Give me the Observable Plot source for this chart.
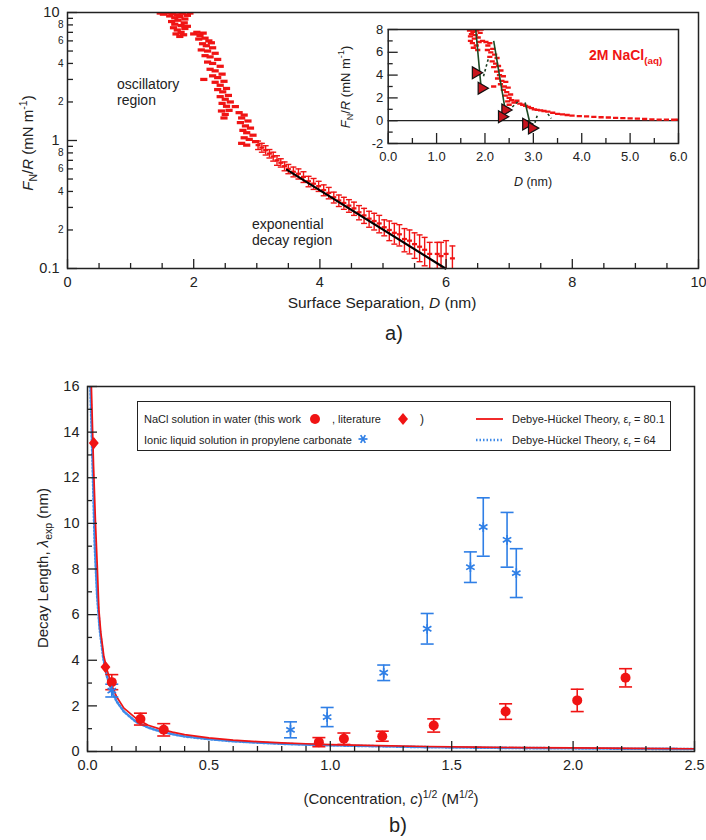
<!DOCTYPE html>
<html>
<head>
<meta charset="utf-8">
<script src="https://cdn.jsdelivr.net/npm/d3@7"></script>
<script src="https://cdn.jsdelivr.net/npm/@observablehq/plot@0.6"></script>
<style>
  body { margin: 0; background: #fff; }
  #page { position: relative; width: 706px; height: 840px; overflow: hidden; font-family: 'Liberation Sans', Arial, sans-serif; color: #222; }
  .abs { position: absolute; white-space: nowrap; }
  .c { transform: translate(-50%, -50%); }
  .rot { transform: translate(-50%, -50%) rotate(-90deg); }
  sub, sup { font-size: 70%; line-height: 0; }
  .leg { position: absolute; font-size: 11px; white-space: nowrap; transform: translateY(-50%); }
</style>
</head>
<body>
<div id="page"></div>
<script>
// ---------------- Panel a) main: oscillatory region points ----------------
const oscD = [1.47,1.52,1.58,1.62,1.66,1.7,1.74,1.78,1.82,1.86,1.9,1.94,1.65,1.7,1.75,1.8,1.85,1.68,1.74,1.8,1.86,1.72,1.78,1.84,1.9,
  2.0,2.05,2.1,2.15,2.08,2.18,2.24,2.14,2.2,2.28,2.12,2.22,2.3,2.18,2.26,2.34,2.22,2.3,2.38,2.26,2.34,2.42,2.3,2.38,2.45,
  2.34,2.42,2.48,2.38,2.46,2.52,2.42,2.5,2.55,2.45,2.52,2.58,2.44,2.5,2.56,2.48,2.16,2.66,
  2.72,2.76,2.8,2.74,2.82,2.86,2.78,2.84,2.9,2.8,2.88,2.94,2.76,2.84,2.98];
const oscF = [9.9,9.7,9.95,9.4,9.8,9.1,9.6,9.3,9.85,8.9,9.5,9.9,8.5,8.1,8.7,7.9,8.3,7.6,7.3,7.0,7.5,6.8,6.5,6.7,7.8,
  6.8,7.0,6.6,6.9,6.2,6.3,6.0,5.7,5.5,5.8,5.1,5.0,5.3,4.6,4.5,4.8,4.1,4.0,4.3,3.6,3.5,3.8,3.2,3.1,3.3,
  2.85,2.7,2.9,2.5,2.4,2.55,2.2,2.1,2.25,1.95,1.85,2.0,1.7,1.6,1.72,1.5,3.0,1.84,
  1.65,1.5,1.58,1.38,1.3,1.42,1.2,1.15,1.25,1.05,1.02,1.1,0.95,0.92,0.98];

// exponential decay region points with error bars
const expD = [3.02,3.08,3.14,3.2,3.26,3.32,3.38,3.44,3.5,3.58,3.66,3.74,3.82,3.9,3.98,4.06,4.14,4.22,4.3,4.38,4.46,4.54,4.62,4.7,4.78,4.86,4.94,5.02,5.1,5.18,5.26,5.34,5.42,5.5,5.58,5.66,5.74,5.86,5.92,6.0,6.1];
const expF = [0.92,0.88,0.84,0.79,0.75,0.7,0.67,0.63,0.6,0.57,0.55,0.52,0.48,0.46,0.44,0.41,0.39,0.36,0.34,0.325,0.31,0.295,0.275,0.26,0.245,0.235,0.225,0.21,0.2,0.19,0.185,0.17,0.165,0.155,0.148,0.14,0.13,0.13,0.125,0.13,0.12];
const expErr = [0.07,0.07,0.07,0.06,0.06,0.06,0.05,0.05,0.05,0.05,0.05,0.05,0.045,0.045,0.04,0.04,0.04,0.035,0.035,0.035,0.035,0.035,0.035,0.035,0.035,0.035,0.035,0.03,0.035,0.035,0.035,0.035,0.035,0.035,0.035,0.035,0.03,0.03,0.035,0.035,0.03];

// exponential fit line
const fitD = [3.48, 5.99];
const fitF = [0.59, 0.1];

// axis ticks, panel a)
const aXLabels = [0, 2, 4, 6, 8, 10];
const aXMinor = [0.5,1,1.5,2.5,3,3.5,4.5,5,5.5,6.5,7,7.5,8.5,9,9.5];
const aYMajor = [0.1, 1, 10];
const aYMinorLabels = [0.2, 0.4, 0.6, 0.8, 2, 4, 6, 8];
const aYMinor = [0.2,0.3,0.4,0.5,0.6,0.7,0.8,0.9,2,3,4,5,6,7,8,9];

// ---------------- Panel a) inset ----------------
const insD = [1.68,1.72,1.75,1.78,1.7,1.74,1.8,1.83,1.86,1.88,1.9,1.76,1.82,1.92,1.7,1.85,1.95,1.79,
  2.02,2.06,2.1,2.05,2.12,2.16,2.1,2.2,2.15,2.22,2.25,2.18,2.28,2.24,2.3,2.33,2.26,2.35,2.38,2.32,2.4,2.43,2.38,2.45,2.48,2.42,2.5,2.53,2.47,2.55,2.5,2.45,2.4,2.18,
  2.6,2.66,2.72,2.78,2.84,2.9,2.96,3.02,3.08,3.15,3.22,3.3,3.4,3.5,3.6,3.7,3.8,3.95,4.1,4.25,4.4,4.55,4.7,4.85,5.0,5.15,5.3,5.45,5.6,5.75,5.9,6.0];
const insF = [7.9,7.6,7.8,7.2,7.0,6.8,7.5,7.9,7.3,6.9,7.7,6.4,6.6,8.0,7.4,6.2,7.0,7.95,
  6.9,6.6,6.8,6.2,6.0,6.3,5.6,5.8,5.2,5.0,5.5,4.7,4.8,4.3,4.0,4.4,3.7,3.5,3.9,3.2,3.0,3.4,2.7,2.5,2.9,2.2,2.0,2.3,1.7,1.8,1.4,1.1,0.8,3.0,
  1.6,1.75,1.5,1.4,1.3,1.2,1.1,1.0,0.95,0.9,0.85,0.8,0.7,0.6,0.55,0.5,0.45,0.4,0.38,0.33,0.3,0.28,0.25,0.22,0.2,0.18,0.15,0.12,0.1,0.1,0.08,0.1];
// jump-in lines (solid) and jump-out lines (dashed)
const jumpD1 = [1.81, 2.18, 2.83];
const jumpF1 = [8.0, 7.0, 1.6];
const jumpD2 = [1.92, 2.42, 2.95];
const jumpF2 = [2.9, 0.9, -0.6];
const dashD1 = [1.97, 2.49, 3.0, 3.3];
const dashF1 = [3.9, 0.9, -0.6, 0.6];
const dashD2 = [2.08, 2.7, 3.08, 3.37];
const dashF2 = [5.6, 1.75, 0.45, 0.2];
const triD = [1.81, 1.93, 2.42, 2.35, 2.85, 2.97];
const triF = [4.2, 2.85, 0.94, 0.35, -0.3, -0.65];
const insXLabels = [0, 1, 2, 3, 4, 5, 6];
const insXMinor = [0.5, 1.5, 2.5, 3.5, 4.5, 5.5];
const insYLabels = [-2, 0, 2, 4, 6, 8];
const insYMinor = [-1, 1, 3, 5, 7];

// ---------------- Panel b) ----------------
const naclX = [0.10, 0.218, 0.314, 0.953, 1.056, 1.214, 1.426, 1.722, 2.017, 2.216];
const naclY = [3.04, 1.42, 0.95, 0.41, 0.56, 0.67, 1.14, 1.75, 2.24, 3.23];
const naclErr = [0.33, 0.26, 0.27, 0.2, 0.25, 0.22, 0.29, 0.34, 0.49, 0.4];
const litX = [0.026, 0.074];
const litY = [13.52, 3.70];
const ilX = [0.10, 0.836, 0.987, 1.22, 1.399, 1.577, 1.63, 1.728, 1.766];
const ilY = [2.67, 0.95, 1.51, 3.45, 5.38, 8.08, 9.84, 9.28, 7.82];
const ilErr = [0.28, 0.35, 0.42, 0.34, 0.67, 0.67, 1.28, 1.2, 1.07];
const dhWaterX = [0.016,0.025,0.033,0.04,0.047,0.055,0.067,0.08,0.1,0.12,0.15,0.2,0.25,0.3,0.35,0.4,0.5,0.6,0.7,0.8,0.9,1.0,1.2,1.4,1.6,1.8,2.0,2.25,2.5];
const dhWaterY = [16,12.5,10,8.2,6.2,5.2,4.2,3.6,2.9,2.4,1.9,1.45,1.15,0.98,0.85,0.74,0.6,0.5,0.43,0.38,0.34,0.3,0.26,0.22,0.19,0.17,0.16,0.14,0.12];
const dh64X = [0.012,0.02,0.03,0.04,0.05,0.065,0.08,0.1,0.12,0.15,0.2,0.25,0.3,0.35,0.4,0.5,0.6,0.7,0.8,0.9,1.0,1.2,1.4,1.6,1.8,2.0,2.25,2.5];
const dh64Y = [16,13,9,6.8,5.4,4.1,3.3,2.65,2.2,1.75,1.3,1.05,0.88,0.76,0.66,0.54,0.45,0.39,0.34,0.3,0.27,0.23,0.19,0.17,0.15,0.14,0.12,0.11];
const bXLabels = [0, 0.5, 1.0, 1.5, 2.0, 2.5];
const bXMinor = [0.1,0.2,0.3,0.4,0.6,0.7,0.8,0.9,1.1,1.2,1.3,1.4,1.6,1.7,1.8,1.9,2.1,2.2,2.3,2.4];
const bYLabels = [0, 2, 4, 6, 8, 10, 12, 14, 16];
const bYMinor = [1, 3, 5, 7, 9, 11, 13, 15];

// ---------------- helpers ----------------
const FONT = "'Liberation Sans', Arial, sans-serif";
const RED = "#f01414";
const BLUE = "#2f7fe6";
const INK = "#222";
const zip = (xs, ys) => xs.map((x, i) => ({x, y: ys[i]}));
const capSym = {draw(ctx, size) { const r = Math.sqrt(size / Math.PI); ctx.moveTo(-r, 0); ctx.lineTo(r, 0); }};
const blobSym = {draw(ctx, size) { const r = Math.sqrt(size / Math.PI); ctx.rect(-r, -r * 0.45, 2 * r, 0.9 * r); }};
const diamondSym = {draw(ctx, size) { const r = Math.sqrt(size / Math.PI); ctx.moveTo(0, -r * 1.1); ctx.lineTo(r * 0.9, 0); ctx.lineTo(0, r * 1.1); ctx.lineTo(-r * 0.9, 0); ctx.closePath(); }};

// inward tick marks: full-frame rules shrunk with insets so only `size` px remain at the axis
function ticksX(values, size, innerH) {
  return Plot.ruleX(values, {x: d => d, insetTop: innerH - size, stroke: INK, strokeWidth: 1.3});
}
function ticksY(values, size, innerW) {
  return Plot.ruleY(values, {y: d => d, insetRight: innerW - size, stroke: INK, strokeWidth: 1.3});
}
function labelsX(values, fmt, fontSize, pad) {
  return Plot.text(values, {x: d => d, text: fmt, frameAnchor: "bottom", lineAnchor: "top", dy: pad, fontSize, fill: INK});
}
function labelsY(values, fmt, fontSize, pad) {
  return Plot.text(values, {y: d => d, text: fmt, frameAnchor: "left", textAnchor: "end", dx: -pad, fontSize, fill: INK});
}
function place(el, left, top) {
  const d = document.createElement("div");
  d.style.position = "absolute"; d.style.left = left + "px"; d.style.top = top + "px";
  d.append(el);
  document.getElementById("page").append(d);
}

// ---------------- Panel a) main plot ----------------
const osc = zip(oscD, oscF);
const exp = expD.map((d, i) => ({x: d, y: expF[i], lo: expF[i] - expErr[i], hi: expF[i] + expErr[i]}));
const fit = zip(fitD, fitF);
const A = {w: 706, h: 320, ml: 67, mr: 8, mt: 12, mb: 52};
const aIW = A.w - A.ml - A.mr, aIH = A.h - A.mt - A.mb;

const plotA = Plot.plot({
  width: A.w, height: A.h,
  marginLeft: A.ml, marginRight: A.mr, marginTop: A.mt, marginBottom: A.mb,
  style: {fontFamily: FONT, fontSize: "14px", color: INK, background: "transparent", overflow: "visible"},
  x: {domain: [0, 10], axis: null},
  y: {type: "log", domain: [0.1, 10], axis: null},
  marks: [
    Plot.ruleX(exp, {x: "x", y1: "lo", y2: "hi", stroke: RED, strokeWidth: 1.4, clip: true}),
    Plot.dot(exp, {x: "x", y: "lo", symbol: capSym, r: 3, stroke: RED, strokeWidth: 1.4, clip: true}),
    Plot.dot(exp, {x: "x", y: "hi", symbol: capSym, r: 3, stroke: RED, strokeWidth: 1.4, clip: true}),
    Plot.dot(exp, {x: "x", y: "y", symbol: blobSym, r: 2.5, fill: RED, stroke: "none"}),
    Plot.dot(osc, {x: "x", y: "y", symbol: blobSym, r: 3.6, fill: RED, stroke: "none", clip: true}),
    Plot.line(fit, {x: "x", y: "y", stroke: "#000", strokeWidth: 2.2}),
    Plot.frame({stroke: INK, strokeWidth: 1.5}),
    ticksX(aXLabels, 9, aIH),
    ticksX(aXMinor, 5, aIH),
    labelsX(aXLabels, d => String(d), 14.5, 8),
    ticksY(aYMajor, 10, aIW),
    ticksY(aYMinor, 6, aIW),
    labelsY(aYMajor, d => String(d), 14.5, 8),
    labelsY(aYMinorLabels, d => d < 1 ? String(Math.round(d * 10)) : String(d), 10, 4)
  ]
});
place(plotA, 0, 0);

// ---------------- Panel a) inset ----------------
const ins = zip(insD, insF);
const jumps = jumpD1.map((d, i) => ({x1: d, y1: jumpF1[i], x2: jumpD2[i], y2: jumpF2[i]}));
const dashes = dashD1.map((d, i) => ({x1: d, y1: dashF1[i], x2: dashD2[i], y2: dashF2[i]}));
const tris = zip(triD, triF);
const I = {w: 376, h: 200, ml: 57.7, mr: 28, mt: 29, mb: 57};
const iIW = I.w - I.ml - I.mr, iIH = I.h - I.mt - I.mb;

const plotInset = Plot.plot({
  width: I.w, height: I.h,
  marginLeft: I.ml, marginRight: I.mr, marginTop: I.mt, marginBottom: I.mb,
  style: {fontFamily: FONT, fontSize: "13px", color: INK, background: "transparent", overflow: "visible"},
  x: {domain: [0, 6], axis: null},
  y: {domain: [-2, 8], axis: null},
  marks: [
    Plot.ruleY([0], {stroke: INK, strokeWidth: 1.3}),
    Plot.dot(ins, {x: "x", y: "y", symbol: blobSym, r: 2.6, fill: RED, stroke: "none", clip: true}),
    Plot.link(dashes, {x1: "x1", y1: "y1", x2: "x2", y2: "y2", stroke: "#1e3d22", strokeWidth: 1.6, strokeDasharray: "2.5,2.5"}),
    Plot.link(jumps, {x1: "x1", y1: "y1", x2: "x2", y2: "y2", stroke: "#1e4a24", strokeWidth: 1.6}),
    Plot.dot(tris, {x: "x", y: "y", symbol: "triangle", rotate: 90, r: 4.4, fill: "#c8141e", stroke: "#111", strokeWidth: 1.2}),
    Plot.frame({stroke: INK, strokeWidth: 1.5}),
    ticksX(insXLabels, 10, iIH),
    ticksX(insXMinor, 5, iIH),
    labelsX(insXLabels, d3.format(".1f"), 13, 8),
    ticksY(insYLabels, 10, iIW),
    ticksY(insYMinor, 5, iIW),
    labelsY(insYLabels, d => String(d), 13, 5)
  ]
});
place(plotInset, 330, 0);

// ---------------- Panel b) ----------------
const nacl = naclX.map((x, i) => ({x, y: naclY[i], lo: naclY[i] - naclErr[i], hi: naclY[i] + naclErr[i]}));
const il = ilX.map((x, i) => ({x, y: ilY[i], lo: ilY[i] - ilErr[i], hi: ilY[i] + ilErr[i]}));
const lit = zip(litX, litY);
const dhW = zip(dhWaterX, dhWaterY);
const dh64 = zip(dh64X, dh64Y);
const B = {w: 706, h: 480, ml: 87, mr: 12, mt: 26, mb: 89};
const bIW = B.w - B.ml - B.mr, bIH = B.h - B.mt - B.mb;

const plotB = Plot.plot({
  width: B.w, height: B.h,
  marginLeft: B.ml, marginRight: B.mr, marginTop: B.mt, marginBottom: B.mb,
  style: {fontFamily: FONT, fontSize: "14px", color: INK, background: "transparent", overflow: "visible"},
  x: {domain: [0, 2.5], axis: null},
  y: {domain: [0, 16], axis: null},
  marks: [
    Plot.line(dh64, {x: "x", y: "y", stroke: "#3f8ae8", strokeWidth: 2.6, strokeDasharray: "1.5,2", clip: true}),
    Plot.line(dhW, {x: "x", y: "y", stroke: RED, strokeWidth: 1.7, clip: true}),
    Plot.ruleX(il, {x: "x", y1: "lo", y2: "hi", stroke: BLUE, strokeWidth: 1.6}),
    Plot.dot(il, {x: "x", y: "lo", symbol: capSym, r: 6.5, stroke: BLUE, strokeWidth: 1.6}),
    Plot.dot(il, {x: "x", y: "hi", symbol: capSym, r: 6.5, stroke: BLUE, strokeWidth: 1.6}),
    Plot.ruleX(nacl, {x: "x", y1: "lo", y2: "hi", stroke: RED, strokeWidth: 1.6}),
    Plot.dot(nacl, {x: "x", y: "lo", symbol: capSym, r: 6.5, stroke: RED, strokeWidth: 1.6}),
    Plot.dot(nacl, {x: "x", y: "hi", symbol: capSym, r: 6.5, stroke: RED, strokeWidth: 1.6}),
    Plot.dot(nacl, {x: "x", y: "y", r: 5, fill: RED, stroke: "none"}),
    Plot.dot(lit, {x: "x", y: "y", symbol: diamondSym, r: 5.5, fill: RED, stroke: "none"}),
    Plot.dot(il, {x: "x", y: "y", symbol: "asterisk", r: 4.6, stroke: BLUE, strokeWidth: 1.7}),
    Plot.frame({stroke: INK, strokeWidth: 1.5}),
    ticksX(bXLabels, 10, bIH),
    ticksX(bXMinor, 5, bIH),
    labelsX(bXLabels, d3.format(".1f"), 14.5, 8),
    ticksY(bYLabels, 10, bIW),
    ticksY(bYMinor, 5, bIW),
    labelsY(bYLabels, d => String(d), 14.5, 8)
  ]
});
place(plotB, 0, 360);

// ---------------- text & legend ----------------
const page = document.getElementById("page");
page.insertAdjacentHTML("beforeend", `
  <div class="abs rot" style="left:27px;top:143px;font-size:15px;"><i>F</i><sub>N</sub>/<i>R</i> (mN m<sup>-1</sup>)</div>
  <div class="abs" style="left:117px;top:76px;font-size:14px;line-height:16px;">oscillatory<br>region</div>
  <div class="abs" style="left:252px;top:216px;font-size:14px;line-height:16px;">exponential<br>decay region</div>
  <div class="abs c" style="left:382px;top:303px;font-size:15.5px;">Surface Separation, <i>D</i> (nm)</div>
  <div class="abs c" style="left:394px;top:333px;font-size:20px;">a)</div>
  <div class="abs rot" style="left:345px;top:87px;font-size:13px;"><i>F</i><sub>N</sub>/<i>R</i> (mN m<sup>-1</sup>)</div>
  <div class="abs c" style="left:533px;top:182px;font-size:12.5px;"><i>D</i> (nm)</div>
  <div class="abs" style="left:589px;top:47px;font-size:14px;font-weight:bold;color:${RED};">2M NaCl<sub>(aq)</sub></div>
  <div class="abs rot" style="left:42px;top:568px;font-size:15px;">Decay Length, <i>λ</i><sub>exp</sub> (nm)</div>
  <div class="abs c" style="left:391px;top:798px;font-size:15px;">(Concentration, <i>c</i>)<sup>1/2</sup> (M<sup>1/2</sup>)</div>
  <div class="abs c" style="left:398px;top:825px;font-size:20px;">b)</div>
  <div style="position:absolute;left:137px;top:401px;width:532px;height:48px;border:1.5px solid ${INK};background:#fff;"></div>
  <svg style="position:absolute;left:0;top:0;" width="706" height="840">
    <circle cx="315" cy="419" r="5" fill="${RED}"/>
    <path d="M403,413 L408,419 L403,425 L398,419 Z" fill="${RED}"/>
    <line x1="476" y1="419" x2="503" y2="419" stroke="${RED}" stroke-width="1.8"/>
    <line x1="476" y1="440" x2="503" y2="440" stroke="#3f8ae8" stroke-width="2.6" stroke-dasharray="1.5,2"/>
    <g stroke="${BLUE}" stroke-width="1.7" transform="translate(363,439)">
      <line x1="-4.5" y1="0" x2="4.5" y2="0"/>
      <line x1="-2.3" y1="-3.9" x2="2.3" y2="3.9"/>
      <line x1="-2.3" y1="3.9" x2="2.3" y2="-3.9"/>
    </g>
  </svg>
  <div class="leg" style="left:144px;top:419px;">NaCl solution in water (this work</div>
  <div class="leg" style="left:332px;top:419px;">, literature</div>
  <div class="leg" style="left:420px;top:419px;font-size:12px;">)</div>
  <div class="leg" style="left:512px;top:419px;">Debye-Hückel Theory, ε<sub>r</sub> = 80.1</div>
  <div class="leg" style="left:144px;top:440px;">Ionic liquid solution in propylene carbonate</div>
  <div class="leg" style="left:512px;top:440px;">Debye-Hückel Theory, ε<sub>r</sub> = 64</div>
`);
</script>
</body>
</html>
